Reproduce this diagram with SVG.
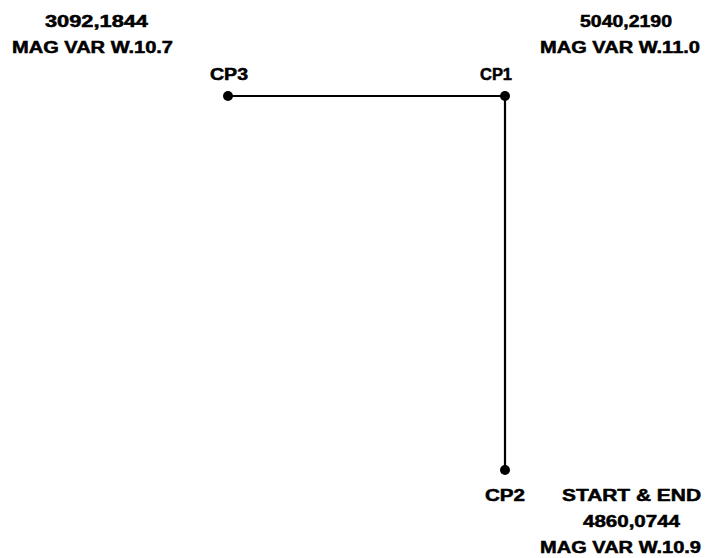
<svg xmlns="http://www.w3.org/2000/svg" width="715" height="558" viewBox="0 0 715 558">
<style>
text{font-family:"Liberation Sans",Arial,sans-serif;font-weight:bold;font-size:16px;fill:#000;stroke:#000;stroke-width:0.5}
.ln{stroke:#000;stroke-width:2.2;fill:none}
</style>
<rect width="715" height="558" fill="#fff"/>
<g id="connectors">
<path class="ln" d="M228,96 H505 V470"/>
</g>
<g id="cp3">
<circle cx="228" cy="96" r="5"/>
<text x="210" y="80" textLength="38" lengthAdjust="spacingAndGlyphs">CP3</text>
</g>
<g id="cp1">
<circle cx="505" cy="96" r="5"/>
<text x="480" y="80" textLength="32" lengthAdjust="spacingAndGlyphs">CP1</text>
</g>
<g id="cp2">
<circle cx="505" cy="470" r="5"/>
<text x="485" y="501" textLength="40" lengthAdjust="spacingAndGlyphs">CP2</text>
</g>
<g id="label-cp3">
<text x="45" y="27" textLength="103" lengthAdjust="spacingAndGlyphs">3092,1844</text>
<text x="12" y="53" textLength="161" lengthAdjust="spacingAndGlyphs">MAG VAR W.10.7</text>
</g>
<g id="label-cp1">
<text x="580" y="27" textLength="92" lengthAdjust="spacingAndGlyphs">5040,2190</text>
<text x="540" y="53" textLength="160" lengthAdjust="spacingAndGlyphs">MAG VAR W.11.0</text>
</g>
<g id="label-cp2">
<text x="562" y="501" textLength="139" lengthAdjust="spacingAndGlyphs">START &amp; END</text>
<text x="583" y="527" textLength="97" lengthAdjust="spacingAndGlyphs">4860,0744</text>
<text x="540" y="553" textLength="161" lengthAdjust="spacingAndGlyphs">MAG VAR W.10.9</text>
</g>
</svg>
